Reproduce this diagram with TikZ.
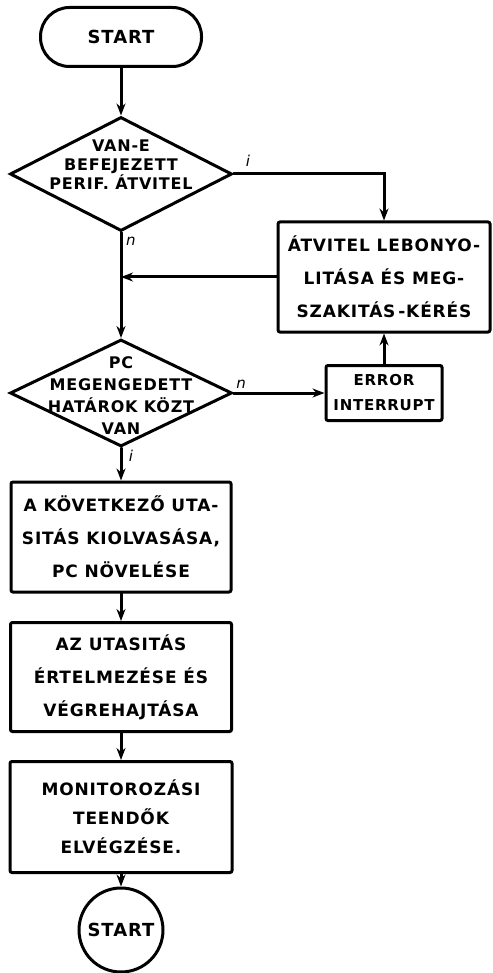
\documentclass[tikz,border=0pt]{standalone}
\usepackage{fontspec}
\setmainfont{DejaVu Sans}[LetterSpace=5]
\usetikzlibrary{shapes.geometric,arrows.meta}
\begin{document}
\begin{tikzpicture}[x=1pt,y=-1pt,>={Stealth[length=12pt,width=9pt]},line width=3pt,line cap=round,
terminal/.style = {draw, rectangle, rounded corners=29pt, minimum width=161pt, minimum height=59pt, font=\fontsize{18}{20}\selectfont\bfseries},
decision/.style = {draw, diamond, minimum width=222pt, minimum height=114pt, inner sep=0pt},
dtext/.style = {align=center, inner sep=0pt, font=\fontsize{16}{19}\selectfont\bfseries},
box/.style = {draw, rectangle, rounded corners=2pt, align=center, inner sep=2pt, font=\fontsize{17}{33}\selectfont\bfseries},
branch/.style = {inner sep=0pt, font=\fontsize{15}{15}\selectfont\itshape},]
\useasboundingbox (0,0) rectangle (492,973);
\node (start) at (121,37)[terminal] {START};
\node (d1) at (121,174)[decision] {};
\node (d1txt) at (121,165)[dtext] {VAN-E\\BEFEJEZETT\\PERIF. ÁTVITEL};
\node (atv) at (384,277)[box,minimum width=212pt,minimum height=110pt] {ÁTVITEL LEBONYO-\\LITÁSA ÉS MEG-\\SZAKITÁS\,-KÉRÉS};
\coordinate (merge) at (d1.south |- atv.west);
\node (d2) at (121,393)[decision,minimum height=107pt] {};
\node (d2txt) at (121,396)[dtext,font=\fontsize{16}{22}\selectfont\bfseries] {PC\\MEGENGEDETT\\HATÁROK KÖZT\\VAN};
\node (err) at (384,393)[box,minimum width=116pt,minimum height=55pt,font=\fontsize{15}{25}\selectfont\bfseries] {ERROR\\INTERRUPT};
\node (fetch) at (121,537)[box,minimum width=220pt,minimum height=110pt] {A KÖVETKEZŐ UTA-\\SITÁS KIOLVASÁSA,\\PC NÖVELÉSE};
\node (exec) at (121,677)[box,minimum width=221pt,minimum height=109pt] {AZ UTASITÁS\\ÉRTELMEZÉSE ÉS\\VÉGREHAJTÁSA};
\node (mon) at (121,817)[box,minimum width=222pt,minimum height=111pt,font=\fontsize{17}{29}\selectfont\bfseries] {MONITOROZÁSI\\TEENDŐK\\ELVÉGZÉSE.};
\node (stop) at (121,930)[draw,circle,minimum size=84pt,inner sep=0pt,font=\fontsize{18}{20}\selectfont\bfseries] {START};
%branch labels
\node (yes1) at (248,161)[branch] {i};
\node (no1) at (131,241)[branch] {n};
\node (no2) at (241,384)[branch] {n};
\node (yes2) at (131,456)[branch] {i};
%connectors
\draw[->] (start) -- (d1);
\draw[->] (d1.east) -| (atv.north);
\draw (d1.south) -- (merge);
\draw[->] (atv.west) -- (merge);
\draw[->] (merge) -- (d2.north);
\draw[->] (d2.east) -- (err.west);
\draw[->] (err.north) -- (atv.south);
\draw[->] (d2.south) -- (fetch.north);
\draw[->] (fetch) -- (exec);
\draw[->] (exec) -- (mon);
\draw[->] (mon) -- (stop);
\end{tikzpicture}
\end{document}
